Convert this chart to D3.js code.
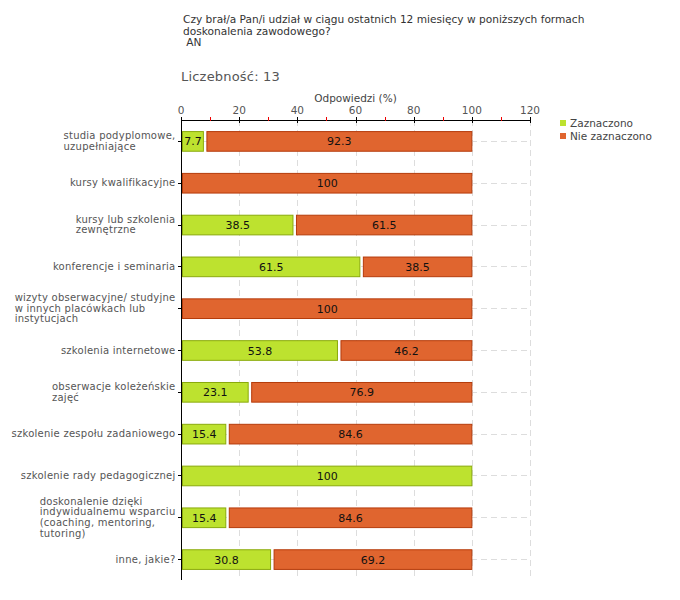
<!DOCTYPE html>
<html><head><meta charset="utf-8">
<script src="https://cdn.jsdelivr.net/npm/d3@7"></script>
<style>body{margin:0;background:#fff;} text{font-family:"DejaVu Sans",Verdana,sans-serif;}</style>
</head><body>
<svg id="chart" width="680" height="600"></svg>
<script>
const categories = [
  ["studia podyplomowe,","uzupełniające"],
  ["kursy kwalifikacyjne"],
  ["kursy lub szkolenia","zewnętrzne"],
  ["konferencje i seminaria"],
  ["wizyty obserwacyjne/ studyjne","w innych placówkach lub","instytucjach"],
  ["szkolenia internetowe"],
  ["obserwacje koleżeńskie","zajęć"],
  ["szkolenie zespołu zadaniowego"],
  ["szkolenie rady pedagogicznej"],
  ["doskonalenie dzięki","indywidualnemu wsparciu","(coaching, mentoring,","tutoring)"],
  ["inne, jakie?"]
];
const zaznaczono = [7.7, 0, 38.5, 61.5, 0, 53.8, 23.1, 15.4, 100, 15.4, 30.8];
const nieZaznaczono = [92.3, 100, 61.5, 38.5, 100, 46.2, 76.9, 84.6, 0, 84.6, 69.2];
const seriesNames = ["Zaznaczono", "Nie zaznaczono"];
const majorTicks = [0, 20, 40, 60, 80, 100, 120];
const minorTicks = [10, 30, 50, 70, 90, 110];
const titleLines = ["Czy brał/a Pan/i udział w ciągu ostatnich 12 miesięcy w poniższych formach", "doskonalenia zawodowego?", " AN"];
const countLabel = "Liczebność: 13";
const axisTitle = "Odpowiedzi (%)";

(function () {
const svg = d3.select("#chart");
const pL = 181, pR = 530, pT = 120, pB = 580;
const x = d3.scaleLinear().domain([0, 120]).range([pL, pR]);
const y = d3.scaleBand().domain(d3.range(categories.length)).range([pT, pB]).paddingInner(0.53).paddingOuter(0.265);
const colors = {g: {fill: "#bde22f", stroke: "#8aaa0c"}, o: {fill: "#e0652f", stroke: "#b53b0b"}};

svg.append("g").selectAll("text").data(titleLines).join("text")
  .attr("x", 183).attr("y", (d, i) => 23 + i * 11.5)
  .attr("font-size", 10.6).attr("fill", "#333").attr("xml:space", "preserve")
  .text(d => d);
svg.append("text").attr("x", 181).attr("y", 81).attr("font-size", 13).attr("fill", "#555")
  .attr("letter-spacing", 0.2).text(countLabel);
svg.append("text").attr("x", (x(0) + x(120)) / 2).attr("y", 102).attr("text-anchor", "middle")
  .attr("font-size", 10.5).attr("fill", "#444").text(axisTitle);

const grid = svg.append("g");
grid.selectAll("line.v").data(majorTicks.filter(d => d > 0)).join("line").attr("class", "v")
  .attr("x1", d => Math.round(x(d)) + 0.5).attr("x2", d => Math.round(x(d)) + 0.5).attr("y1", pT).attr("y2", pB)
  .attr("stroke", "#ddd").attr("stroke-dasharray", "6,4");
grid.selectAll("line.h").data(d3.range(categories.length)).join("line").attr("class", "h")
  .attr("x1", x(0)).attr("x2", x(120)).attr("y1", i => Math.round(y(i) + y.bandwidth() / 2) + 0.5).attr("y2", i => Math.round(y(i) + y.bandwidth() / 2) + 0.5)
  .attr("stroke", "#ddd").attr("stroke-dasharray", "6,4");

const bars = svg.append("g");
const bh = y.bandwidth();
categories.forEach((c, i) => {
  const g = zaznaczono[i], o = nieZaznaczono[i];
  if (g > 0) {
    bars.append("rect").attr("x", x(0) + 1.5).attr("y", y(i) + 0.5).attr("width", x(g) - x(0) - 1.5).attr("height", bh)
      .attr("fill", colors.g.fill).attr("stroke", colors.g.stroke);
    bars.append("text").attr("x", (x(0) + 1.5 + x(g)) / 2).attr("y", y(i) + bh / 2 + 4.5).attr("text-anchor", "middle")
      .attr("font-size", 11).attr("fill", "#111").text(g);
  }
  if (o > 0) {
    const s = g > 0 ? x(g) + 3.5 : x(0) + 1.5;
    const e = x(g + o);
    bars.append("rect").attr("x", s).attr("y", y(i) + 0.5).attr("width", e - s).attr("height", bh)
      .attr("fill", colors.o.fill).attr("stroke", colors.o.stroke);
    bars.append("text").attr("x", (s + e) / 2).attr("y", y(i) + bh / 2 + 4.5).attr("text-anchor", "middle")
      .attr("font-size", 11).attr("fill", "#111").text(o);
  }
});

const ax = svg.append("g");
ax.append("line").attr("x1", x(0)).attr("x2", x(120)).attr("y1", pT + 0.5).attr("y2", pT + 0.5).attr("stroke", "#000");
ax.selectAll("line.maj").data(majorTicks).join("line").attr("class", "maj")
  .attr("x1", d => Math.round(x(d)) + 0.5).attr("x2", d => Math.round(x(d)) + 0.5).attr("y1", pT - 3).attr("y2", pT + 3).attr("stroke", "#000");
ax.selectAll("line.min").data(minorTicks).join("line").attr("class", "min")
  .attr("x1", d => Math.round(x(d)) + 0.5).attr("x2", d => Math.round(x(d)) + 0.5).attr("y1", pT - 3).attr("y2", pT + 1).attr("stroke", "#e00");
ax.selectAll("text").data(majorTicks).join("text")
  .attr("x", d => x(d)).attr("y", 114).attr("text-anchor", "middle").attr("font-size", 10.5).attr("fill", "#555").text(d => d);

const ay = svg.append("g");
ay.append("line").attr("x1", pL + 0.5).attr("x2", pL + 0.5).attr("y1", pT).attr("y2", pB).attr("stroke", "#000");
ay.selectAll("line.t").data(d3.range(categories.length)).join("line").attr("class", "t")
  .attr("x1", pL - 3).attr("x2", pL).attr("y1", i => Math.round(y(i) + bh / 2) + 0.5).attr("y2", i => Math.round(y(i) + bh / 2) + 0.5)
  .attr("stroke", "#000");
const lh = 10.8;
categories.forEach((lines, i) => {
  const cy = y(i) + bh / 2;
  const t = ay.append("text").attr("font-size", 10).attr("fill", "#555").attr("letter-spacing", 0.25);
  const tspans = lines.map((l, k) => t.append("tspan").attr("x", 0).attr("y", cy + 3.5 + (k - (lines.length - 1) / 2) * lh).text(l));
  const w = t.node().getBBox().width;
  tspans.forEach(ts => ts.attr("x", 175.5 - w));
});

const lg = svg.append("g");
seriesNames.forEach((n, i) => {
  const c = i === 0 ? colors.g : colors.o;
  lg.append("rect").attr("x", 560).attr("y", 120 + i * 13).attr("width", 6).attr("height", 6).attr("fill", c.fill);
  lg.append("text").attr("x", 570).attr("y", 127 + i * 13).attr("font-size", 10.5).attr("fill", "#444").text(n);
});
})();
</script>
</body></html>
